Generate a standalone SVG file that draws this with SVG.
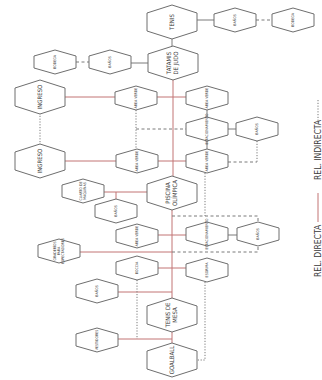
<svg xmlns="http://www.w3.org/2000/svg" xmlns:xlink="http://www.w3.org/1999/xlink" width="322" height="380" viewBox="0 0 322 380">
<style>
.hex{fill:#fff;stroke:#6e6e6e;stroke-width:1}
.t{font-family:"Liberation Sans Narrow","DejaVu Sans Condensed","Liberation Sans",sans-serif;fill:#3a3a3a;text-anchor:middle}
.tl{font-size:6px}
.ts{font-size:3.6px}
.d{stroke:#c27474;stroke-width:1;fill:none}
.g{stroke:#7a7a7a;stroke-width:1;fill:none}
.i{stroke:#7a7a7a;stroke-width:1;fill:none;stroke-dasharray:3 2.5}
.o{stroke:#7a7a7a;stroke-width:1;fill:none;stroke-dasharray:1.2 1.6}
.lg{font-family:"Liberation Sans Narrow","DejaVu Sans Condensed","Liberation Sans",sans-serif;font-size:8.5px;fill:#3a3a3a}
</style>
<defs>
<polygon id="hL" points="0,-17 25,-9 25,9 0,17 -25,9 -25,-9"/>
<polygon id="hS" points="0,-12 21,-6 21,6 0,12 -21,6 -21,-6"/>
</defs>
<g id="connectors">
<path class="d" d="M173,80V176M172,210V298M172,332V343M65,97H115M157,97H186M65,161H116M158,161H186M104,192H147M116,192V199M158,235H186M80,252H172M158,268H186M118,292H172M118,339H172"/>
<path class="g" d="M197,20H214M172,39V46M131,63H148M207,110V117M228,129H236M207,141V149M228,235H237"/>
<path class="i" d="M256,20H272M76,62H89M136,129H186M228,162H257M172,216H258V222M172,252H258V246"/>
<path class="o" d="M136,110V149M40,113V145M257,141V162M205,173V216M205,282V360H197M137,280V339"/>
</g>
<g id="n_tenis"><use xlink:href="#hL" x="172" y="22" class="hex"/><text class="t tl" transform="translate(174,22) rotate(-90)">TENIS</text></g>
<g id="n_banos1"><use xlink:href="#hS" x="235" y="20" class="hex"/><text class="t ts" transform="translate(236,20) rotate(-90)">BAÑOS</text></g>
<g id="n_bodega1"><use xlink:href="#hS" x="293" y="20" class="hex"/><text class="t ts" transform="translate(294,20) rotate(-90)">BODEGA</text></g>
<g id="n_tatamis"><use xlink:href="#hL" x="173" y="63" class="hex"/><text class="t tl" transform="translate(171,63) rotate(-90)"><tspan x="0" y="0">TATAMIS</tspan><tspan x="0" y="6.5">DE JUDO</tspan></text></g>
<g id="n_bodega2"><use xlink:href="#hS" x="55" y="62" class="hex"/><text class="t ts" transform="translate(56,62) rotate(-90)">BODEGA</text></g>
<g id="n_banos2"><use xlink:href="#hS" x="110" y="62" class="hex"/><text class="t ts" transform="translate(111,62) rotate(-90)">BAÑOS</text></g>
<g id="n_ingreso1"><use xlink:href="#hL" x="40" y="97" class="hex"/><text class="t tl" transform="translate(42,97) rotate(-90)">INGRESO</text></g>
<g id="n_av1"><use xlink:href="#hS" x="136" y="98" class="hex"/><text class="t ts" transform="translate(137,98) rotate(-90)">ÁREA VERDE</text></g>
<g id="n_av2"><use xlink:href="#hS" x="207" y="98" class="hex"/><text class="t ts" transform="translate(208,98) rotate(-90)">ÁREA VERDE</text></g>
<g id="n_est1"><use xlink:href="#hS" x="207" y="129" class="hex"/><text class="t ts" transform="translate(208,129) rotate(-90)">ESTACIONAMIENTO</text></g>
<g id="n_banos3"><use xlink:href="#hS" x="257" y="129" class="hex"/><text class="t ts" transform="translate(258,129) rotate(-90)">BAÑOS</text></g>
<g id="n_ingreso2"><use xlink:href="#hL" x="40" y="161" class="hex"/><text class="t tl" transform="translate(42,161) rotate(-90)">INGRESO</text></g>
<g id="n_av4"><use xlink:href="#hS" x="137" y="161" class="hex"/><text class="t ts" transform="translate(138,161) rotate(-90)">ÁREA VERDE</text></g>
<g id="n_av3"><use xlink:href="#hS" x="207" y="161" class="hex"/><text class="t ts" transform="translate(208,161) rotate(-90)">ÁREA VERDE</text></g>
<g id="n_cuarto"><use xlink:href="#hS" x="83" y="191" class="hex"/><text class="t ts" transform="translate(82,191) rotate(-90)"><tspan x="0" y="0">CUARTO DE</tspan><tspan x="0" y="4">MÁQUINAS</tspan></text></g>
<g id="n_banos4"><use xlink:href="#hS" x="116" y="211" class="hex"/><text class="t ts" transform="translate(117,211) rotate(-90)">BAÑOS</text></g>
<g id="n_piscina"><use xlink:href="#hL" x="172" y="193" class="hex"/><text class="t tl" transform="translate(170,193) rotate(-90)"><tspan x="0" y="0">PISCINA</tspan><tspan x="0" y="6.5">OLÍMPICA</tspan></text></g>
<g id="n_av5"><use xlink:href="#hS" x="137" y="236" class="hex"/><text class="t ts" transform="translate(138,236) rotate(-90)">ÁREA VERDE</text></g>
<g id="n_est2"><use xlink:href="#hS" x="207" y="234" class="hex"/><text class="t ts" transform="translate(208,234) rotate(-90)">ESTACIONAMIENTO</text></g>
<g id="n_banos5"><use xlink:href="#hS" x="258" y="234" class="hex"/><text class="t ts" transform="translate(259,234) rotate(-90)">BAÑOS</text></g>
<g id="n_grad"><use xlink:href="#hS" x="59" y="251" class="hex"/><text class="t ts" transform="translate(56,251) rotate(-90)"><tspan x="0" y="0">GRADERÍOS</tspan><tspan x="0" y="4">PARA</tspan><tspan x="0" y="8">ESPECTADORES</tspan></text></g>
<g id="n_boccia"><use xlink:href="#hS" x="137" y="268" class="hex"/><text class="t ts" transform="translate(138,268) rotate(-90)">BOCCIA</text></g>
<g id="n_esgrima"><use xlink:href="#hS" x="207" y="270" class="hex"/><text class="t ts" transform="translate(208,270) rotate(-90)">ESGRIMA</text></g>
<g id="n_banos6"><use xlink:href="#hS" x="97" y="291" class="hex"/><text class="t ts" transform="translate(98,291) rotate(-90)">BAÑOS</text></g>
<g id="n_tmesa"><use xlink:href="#hL" x="172" y="315" class="hex"/><text class="t tl" transform="translate(170,315) rotate(-90)"><tspan x="0" y="0">TENIS DE</tspan><tspan x="0" y="6.5">MESA</tspan></text></g>
<g id="n_vest"><use xlink:href="#hS" x="97" y="340" class="hex"/><text class="t ts" transform="translate(98,340) rotate(-90)">VESTIDORES</text></g>
<g id="n_goal"><use xlink:href="#hL" x="172" y="360" class="hex"/><text class="t tl" transform="translate(174,360) rotate(-90)">GOALBALL</text></g>
<g id="legend">
<path class="o" d="M318,100V123"/>
<text class="lg" transform="translate(321,180) rotate(-90)">REL. INDIRECTA</text>
<path class="d" d="M318,193V222"/>
<text class="lg" transform="translate(321,277) rotate(-90)">REL. DIRECTA</text>
</g>
</svg>
